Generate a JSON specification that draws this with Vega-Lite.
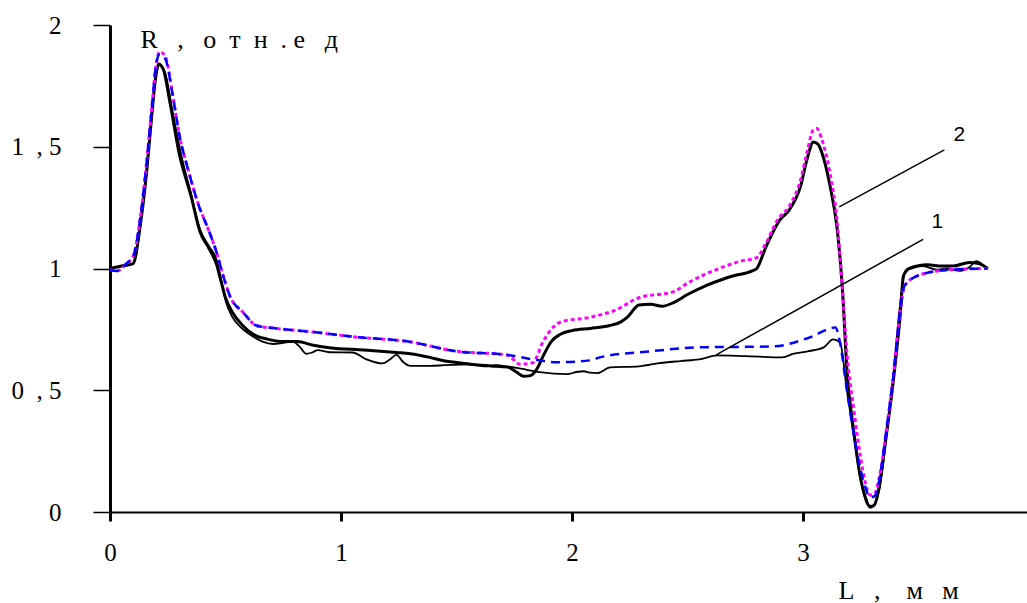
{
  "$schema": "https://vega.github.io/schema/vega-lite/v6.json",
  "autosize": "none",
  "width": 924,
  "height": 487,
  "padding": {"left": 110, "top": 25, "right": 0, "bottom": 91},
  "background": "white",
  "config": {
    "view": {"stroke": null},
    "font": "Liberation Serif",
    "axis": {"grid": false, "labelFont": "Liberation Serif", "titleFont": "Liberation Serif", "labelColor": "black", "titleColor": "black", "domainColor": "black", "tickColor": "black", "titleFontWeight": "normal"}
  },
  "datasets": {
    "curves": [
      {"s": "A", "x": 0.00, "y": 1.00}, {"s": "A", "x": 0.05, "y": 1.01}, {"s": "A", "x": 0.10, "y": 1.02}, {"s": "A", "x": 0.13, "y": 1.17}, {"s": "A", "x": 0.16, "y": 1.41}, {"s": "A", "x": 0.18, "y": 1.62}, {"s": "A", "x": 0.20, "y": 1.80}, {"s": "A", "x": 0.21, "y": 1.84}, {"s": "A", "x": 0.23, "y": 1.82}, {"s": "A", "x": 0.26, "y": 1.68}, {"s": "A", "x": 0.30, "y": 1.47}, {"s": "A", "x": 0.35, "y": 1.30}, {"s": "A", "x": 0.39, "y": 1.15}, {"s": "A", "x": 0.43, "y": 1.08}, {"s": "A", "x": 0.46, "y": 1.02}, {"s": "A", "x": 0.48, "y": 0.95}, {"s": "A", "x": 0.50, "y": 0.88}, {"s": "A", "x": 0.53, "y": 0.82}, {"s": "A", "x": 0.57, "y": 0.77}, {"s": "A", "x": 0.62, "y": 0.73}, {"s": "A", "x": 0.68, "y": 0.71}, {"s": "A", "x": 0.75, "y": 0.70}, {"s": "A", "x": 0.81, "y": 0.70}, {"s": "A", "x": 0.88, "y": 0.685}, {"s": "A", "x": 0.95, "y": 0.675}, {"s": "A", "x": 1.10, "y": 0.665}, {"s": "A", "x": 1.24, "y": 0.655}, {"s": "A", "x": 1.30, "y": 0.65}, {"s": "A", "x": 1.385, "y": 0.635}, {"s": "A", "x": 1.45, "y": 0.62}, {"s": "A", "x": 1.50, "y": 0.614}, {"s": "A", "x": 1.57, "y": 0.606}, {"s": "A", "x": 1.65, "y": 0.60}, {"s": "A", "x": 1.72, "y": 0.595}, {"s": "A", "x": 1.76, "y": 0.575}, {"s": "A", "x": 1.79, "y": 0.557}, {"s": "A", "x": 1.82, "y": 0.56}, {"s": "A", "x": 1.85, "y": 0.59}, {"s": "A", "x": 1.875, "y": 0.64}, {"s": "A", "x": 1.91, "y": 0.70}, {"s": "A", "x": 1.95, "y": 0.73}, {"s": "A", "x": 2.00, "y": 0.745}, {"s": "A", "x": 2.08, "y": 0.754}, {"s": "A", "x": 2.16, "y": 0.765}, {"s": "A", "x": 2.21, "y": 0.78}, {"s": "A", "x": 2.24, "y": 0.80}, {"s": "A", "x": 2.29, "y": 0.85}, {"s": "A", "x": 2.34, "y": 0.853}, {"s": "A", "x": 2.39, "y": 0.845}, {"s": "A", "x": 2.44, "y": 0.86}, {"s": "A", "x": 2.50, "y": 0.893}, {"s": "A", "x": 2.58, "y": 0.93}, {"s": "A", "x": 2.65, "y": 0.955}, {"s": "A", "x": 2.70, "y": 0.97}, {"s": "A", "x": 2.78, "y": 0.99}, {"s": "A", "x": 2.80, "y": 1.00}, {"s": "A", "x": 2.84, "y": 1.09}, {"s": "A", "x": 2.90, "y": 1.20}, {"s": "A", "x": 2.94, "y": 1.24}, {"s": "A", "x": 2.99, "y": 1.34}, {"s": "A", "x": 3.017, "y": 1.447}, {"s": "A", "x": 3.045, "y": 1.52}, {"s": "A", "x": 3.065, "y": 1.51}, {"s": "A", "x": 3.087, "y": 1.46}, {"s": "A", "x": 3.117, "y": 1.34}, {"s": "A", "x": 3.147, "y": 1.17}, {"s": "A", "x": 3.17, "y": 0.925}, {"s": "A", "x": 3.19, "y": 0.586}, {"s": "A", "x": 3.22, "y": 0.33}, {"s": "A", "x": 3.247, "y": 0.15}, {"s": "A", "x": 3.27, "y": 0.06}, {"s": "A", "x": 3.29, "y": 0.02}, {"s": "A", "x": 3.31, "y": 0.03}, {"s": "A", "x": 3.325, "y": 0.08}, {"s": "A", "x": 3.36, "y": 0.31}, {"s": "A", "x": 3.39, "y": 0.53}, {"s": "A", "x": 3.42, "y": 0.80}, {"s": "A", "x": 3.435, "y": 0.97}, {"s": "A", "x": 3.46, "y": 1.00}, {"s": "A", "x": 3.54, "y": 1.015}, {"s": "A", "x": 3.60, "y": 1.01}, {"s": "A", "x": 3.65, "y": 1.01}, {"s": "A", "x": 3.72, "y": 1.025}, {"s": "A", "x": 3.76, "y": 1.02}, {"s": "A", "x": 3.80, "y": 1.00},

      {"s": "B", "x": 0.00, "y": 1.00}, {"s": "B", "x": 0.05, "y": 1.01}, {"s": "B", "x": 0.10, "y": 1.02}, {"s": "B", "x": 0.13, "y": 1.17}, {"s": "B", "x": 0.16, "y": 1.41}, {"s": "B", "x": 0.18, "y": 1.62}, {"s": "B", "x": 0.20, "y": 1.80}, {"s": "B", "x": 0.215, "y": 1.835}, {"s": "B", "x": 0.24, "y": 1.80}, {"s": "B", "x": 0.27, "y": 1.65}, {"s": "B", "x": 0.31, "y": 1.46}, {"s": "B", "x": 0.35, "y": 1.31}, {"s": "B", "x": 0.39, "y": 1.16}, {"s": "B", "x": 0.43, "y": 1.09}, {"s": "B", "x": 0.46, "y": 1.04}, {"s": "B", "x": 0.48, "y": 0.96}, {"s": "B", "x": 0.50, "y": 0.87}, {"s": "B", "x": 0.53, "y": 0.80}, {"s": "B", "x": 0.57, "y": 0.755}, {"s": "B", "x": 0.62, "y": 0.72}, {"s": "B", "x": 0.66, "y": 0.70}, {"s": "B", "x": 0.706, "y": 0.69}, {"s": "B", "x": 0.75, "y": 0.695}, {"s": "B", "x": 0.79, "y": 0.70}, {"s": "B", "x": 0.82, "y": 0.68}, {"s": "B", "x": 0.85, "y": 0.65}, {"s": "B", "x": 0.875, "y": 0.655}, {"s": "B", "x": 0.90, "y": 0.665}, {"s": "B", "x": 0.95, "y": 0.656}, {"s": "B", "x": 1.05, "y": 0.655}, {"s": "B", "x": 1.11, "y": 0.627}, {"s": "B", "x": 1.18, "y": 0.61}, {"s": "B", "x": 1.21, "y": 0.625}, {"s": "B", "x": 1.24, "y": 0.645}, {"s": "B", "x": 1.27, "y": 0.615}, {"s": "B", "x": 1.30, "y": 0.60}, {"s": "B", "x": 1.385, "y": 0.60}, {"s": "B", "x": 1.45, "y": 0.603}, {"s": "B", "x": 1.57, "y": 0.606}, {"s": "B", "x": 1.62, "y": 0.598}, {"s": "B", "x": 1.67, "y": 0.603}, {"s": "B", "x": 1.72, "y": 0.598}, {"s": "B", "x": 1.80, "y": 0.585}, {"s": "B", "x": 1.86, "y": 0.574}, {"s": "B", "x": 1.98, "y": 0.566}, {"s": "B", "x": 2.02, "y": 0.575}, {"s": "B", "x": 2.05, "y": 0.578}, {"s": "B", "x": 2.08, "y": 0.572}, {"s": "B", "x": 2.11, "y": 0.57}, {"s": "B", "x": 2.165, "y": 0.594}, {"s": "B", "x": 2.29, "y": 0.598}, {"s": "B", "x": 2.37, "y": 0.61}, {"s": "B", "x": 2.47, "y": 0.62}, {"s": "B", "x": 2.55, "y": 0.627}, {"s": "B", "x": 2.63, "y": 0.643}, {"s": "B", "x": 2.75, "y": 0.64}, {"s": "B", "x": 2.91, "y": 0.635}, {"s": "B", "x": 2.96, "y": 0.65}, {"s": "B", "x": 3.02, "y": 0.66}, {"s": "B", "x": 3.09, "y": 0.676}, {"s": "B", "x": 3.13, "y": 0.709}, {"s": "B", "x": 3.16, "y": 0.697}, {"s": "B", "x": 3.19, "y": 0.50}, {"s": "B", "x": 3.22, "y": 0.31}, {"s": "B", "x": 3.25, "y": 0.13}, {"s": "B", "x": 3.28, "y": 0.03}, {"s": "B", "x": 3.30, "y": 0.025}, {"s": "B", "x": 3.33, "y": 0.09}, {"s": "B", "x": 3.36, "y": 0.30}, {"s": "B", "x": 3.39, "y": 0.55}, {"s": "B", "x": 3.42, "y": 0.85}, {"s": "B", "x": 3.44, "y": 0.98}, {"s": "B", "x": 3.47, "y": 1.005}, {"s": "B", "x": 3.52, "y": 1.01}, {"s": "B", "x": 3.58, "y": 0.995}, {"s": "B", "x": 3.62, "y": 1.0}, {"s": "B", "x": 3.68, "y": 0.99}, {"s": "B", "x": 3.72, "y": 1.005}, {"s": "B", "x": 3.75, "y": 1.03}, {"s": "B", "x": 3.78, "y": 1.015}, {"s": "B", "x": 3.80, "y": 1.0},

      {"s": "C", "x": 0.00, "y": 0.995}, {"s": "C", "x": 0.03, "y": 0.99}, {"s": "C", "x": 0.07, "y": 1.02}, {"s": "C", "x": 0.10, "y": 1.05}, {"s": "C", "x": 0.13, "y": 1.20}, {"s": "C", "x": 0.16, "y": 1.45}, {"s": "C", "x": 0.18, "y": 1.65}, {"s": "C", "x": 0.20, "y": 1.84}, {"s": "C", "x": 0.215, "y": 1.89}, {"s": "C", "x": 0.24, "y": 1.87}, {"s": "C", "x": 0.27, "y": 1.72}, {"s": "C", "x": 0.30, "y": 1.55}, {"s": "C", "x": 0.34, "y": 1.40}, {"s": "C", "x": 0.38, "y": 1.27}, {"s": "C", "x": 0.43, "y": 1.15}, {"s": "C", "x": 0.46, "y": 1.07}, {"s": "C", "x": 0.49, "y": 0.97}, {"s": "C", "x": 0.52, "y": 0.885}, {"s": "C", "x": 0.576, "y": 0.82}, {"s": "C", "x": 0.636, "y": 0.765}, {"s": "C", "x": 0.72, "y": 0.754}, {"s": "C", "x": 0.90, "y": 0.737}, {"s": "C", "x": 1.05, "y": 0.72}, {"s": "C", "x": 1.29, "y": 0.70}, {"s": "C", "x": 1.50, "y": 0.66}, {"s": "C", "x": 1.72, "y": 0.645}, {"s": "C", "x": 1.775, "y": 0.607}, {"s": "C", "x": 1.83, "y": 0.613}, {"s": "C", "x": 1.875, "y": 0.70}, {"s": "C", "x": 1.92, "y": 0.76}, {"s": "C", "x": 1.95, "y": 0.78}, {"s": "C", "x": 2.08, "y": 0.80}, {"s": "C", "x": 2.19, "y": 0.83}, {"s": "C", "x": 2.29, "y": 0.88}, {"s": "C", "x": 2.44, "y": 0.905}, {"s": "C", "x": 2.50, "y": 0.94}, {"s": "C", "x": 2.61, "y": 0.99}, {"s": "C", "x": 2.73, "y": 1.03}, {"s": "C", "x": 2.80, "y": 1.045}, {"s": "C", "x": 2.84, "y": 1.105}, {"s": "C", "x": 2.89, "y": 1.20}, {"s": "C", "x": 2.94, "y": 1.255}, {"s": "C", "x": 2.99, "y": 1.365}, {"s": "C", "x": 3.017, "y": 1.475}, {"s": "C", "x": 3.045, "y": 1.57}, {"s": "C", "x": 3.06, "y": 1.575}, {"s": "C", "x": 3.08, "y": 1.535}, {"s": "C", "x": 3.117, "y": 1.39}, {"s": "C", "x": 3.147, "y": 1.20}, {"s": "C", "x": 3.17, "y": 0.925}, {"s": "C", "x": 3.19, "y": 0.655}, {"s": "C", "x": 3.22, "y": 0.42}, {"s": "C", "x": 3.25, "y": 0.22}, {"s": "C", "x": 3.27, "y": 0.12}, {"s": "C", "x": 3.29, "y": 0.07}, {"s": "C", "x": 3.31, "y": 0.075}, {"s": "C", "x": 3.33, "y": 0.14}, {"s": "C", "x": 3.36, "y": 0.33}, {"s": "C", "x": 3.39, "y": 0.55}, {"s": "C", "x": 3.42, "y": 0.82}, {"s": "C", "x": 3.44, "y": 0.93}, {"s": "C", "x": 3.51, "y": 0.975}, {"s": "C", "x": 3.65, "y": 0.996}, {"s": "C", "x": 3.80, "y": 1.0},

      {"s": "D", "x": 0.00, "y": 0.995}, {"s": "D", "x": 0.03, "y": 0.99}, {"s": "D", "x": 0.07, "y": 1.02}, {"s": "D", "x": 0.10, "y": 1.05}, {"s": "D", "x": 0.13, "y": 1.20}, {"s": "D", "x": 0.16, "y": 1.45}, {"s": "D", "x": 0.18, "y": 1.65}, {"s": "D", "x": 0.20, "y": 1.84}, {"s": "D", "x": 0.215, "y": 1.88}, {"s": "D", "x": 0.24, "y": 1.86}, {"s": "D", "x": 0.27, "y": 1.72}, {"s": "D", "x": 0.30, "y": 1.55}, {"s": "D", "x": 0.34, "y": 1.40}, {"s": "D", "x": 0.38, "y": 1.27}, {"s": "D", "x": 0.43, "y": 1.15}, {"s": "D", "x": 0.46, "y": 1.07}, {"s": "D", "x": 0.49, "y": 0.97}, {"s": "D", "x": 0.52, "y": 0.885}, {"s": "D", "x": 0.576, "y": 0.82}, {"s": "D", "x": 0.636, "y": 0.765}, {"s": "D", "x": 0.72, "y": 0.754}, {"s": "D", "x": 0.90, "y": 0.737}, {"s": "D", "x": 1.05, "y": 0.72}, {"s": "D", "x": 1.29, "y": 0.70}, {"s": "D", "x": 1.50, "y": 0.66}, {"s": "D", "x": 1.72, "y": 0.645}, {"s": "D", "x": 1.83, "y": 0.627}, {"s": "D", "x": 1.935, "y": 0.615}, {"s": "D", "x": 2.08, "y": 0.623}, {"s": "D", "x": 2.12, "y": 0.635}, {"s": "D", "x": 2.34, "y": 0.66}, {"s": "D", "x": 2.55, "y": 0.676}, {"s": "D", "x": 2.87, "y": 0.68}, {"s": "D", "x": 3.03, "y": 0.717}, {"s": "D", "x": 3.14, "y": 0.758}, {"s": "D", "x": 3.16, "y": 0.697}, {"s": "D", "x": 3.19, "y": 0.50}, {"s": "D", "x": 3.22, "y": 0.32}, {"s": "D", "x": 3.25, "y": 0.17}, {"s": "D", "x": 3.27, "y": 0.10}, {"s": "D", "x": 3.29, "y": 0.06}, {"s": "D", "x": 3.31, "y": 0.065}, {"s": "D", "x": 3.33, "y": 0.13}, {"s": "D", "x": 3.36, "y": 0.33}, {"s": "D", "x": 3.39, "y": 0.55}, {"s": "D", "x": 3.42, "y": 0.82}, {"s": "D", "x": 3.44, "y": 0.93}, {"s": "D", "x": 3.51, "y": 0.975}, {"s": "D", "x": 3.65, "y": 0.996}, {"s": "D", "x": 3.80, "y": 1.0}
    ],
    "leaders": [
      {"label": "2", "x": 3.157, "y": 1.253, "x2": 3.612, "y2": 1.487, "tx": 3.677, "ty": 1.548},
      {"label": "1", "x": 2.624, "y": 0.645, "x2": 3.52, "y2": 1.12, "tx": 3.582, "ty": 1.191}
    ]
  },
  "encoding": {
    "x": {"field": "x", "type": "quantitative", "scale": {"domain": [0, 4], "nice": false},
      "axis": {"values": [0, 1, 2, 3, 4], "tickSize": 9, "tickWidth": 3, "domainWidth": 2, "labelFont": "Liberation Serif", "labelFontSize": 25, "labelPadding": 19, "labelFlush": false,
        "labelExpr": "datum.value == 0 ? '0' : datum.value == 1 ? '1' : datum.value == 2 ? '2' : datum.value == 3 ? '3' : '4'",
        "title": "L\u00a0\u00a0\u00a0,\u00a0\u00a0\u00a0\u00a0м\u00a0\u00a0\u00a0м", "titleFont": "Liberation Serif", "titleFontSize": 26, "titleX": 728, "titleY": 86, "titleAlign": "left", "titleBaseline": "alphabetic", "titleAnchor": null}},
    "y": {"field": "y", "type": "quantitative", "scale": {"domain": [0, 2], "nice": false},
      "axis": {"values": [0, 0.5, 1, 1.5, 2], "tickSize": 17, "tickWidth": 1.5, "domainWidth": 3, "labelFont": "Liberation Serif", "labelFontSize": 25, "labelPadding": 32, "labelFlush": false,
        "labelExpr": "datum.value == 1.5 ? '1\u00a0\u00a0,\u00a05' : datum.value == 0.5 ? '0\u00a0\u00a0,\u00a05' : datum.value == 2 ? '2' : datum.value == 1 ? '1' : '0'",
        "title": "R\u00a0\u00a0\u00a0,\u00a0\u00a0\u00a0о\u00a0\u00a0т\u00a0\u00a0н\u00a0\u00a0.\u00a0е\u00a0\u00a0\u00a0д", "titleFont": "Liberation Serif", "titleFontSize": 26, "titleAngle": 0, "titleX": 30, "titleY": 22, "titleAlign": "left", "titleBaseline": "alphabetic", "titleAnchor": null}}
  },
  "layer": [
    {"data": {"name": "curves"}, "transform": [{"filter": "datum.s == 'B'"}], "mark": {"type": "line", "color": "black", "strokeWidth": 1.8, "interpolate": "monotone"}},
    {"data": {"name": "curves"}, "transform": [{"filter": "datum.s == 'A'"}], "mark": {"type": "line", "color": "black", "strokeWidth": 3, "interpolate": "monotone"}},
    {"data": {"name": "curves"}, "transform": [{"filter": "datum.s == 'C'"}], "mark": {"type": "line", "color": "#FF00FF", "strokeWidth": 3, "strokeDash": [4, 3], "interpolate": "monotone"}},
    {"data": {"name": "curves"}, "transform": [{"filter": "datum.s == 'D'"}], "mark": {"type": "line", "color": "#0000FF", "strokeWidth": 2.5, "strokeDash": [9, 6], "interpolate": "monotone"}},
    {"data": {"name": "leaders"}, "mark": {"type": "rule", "color": "black", "strokeWidth": 1.5},
      "encoding": {"x": {"field": "x", "type": "quantitative"}, "y": {"field": "y", "type": "quantitative"}, "x2": {"field": "x2"}, "y2": {"field": "y2"}}},
    {"data": {"name": "leaders"}, "mark": {"type": "text", "font": "Liberation Sans", "fontSize": 21, "color": "black", "align": "center", "baseline": "middle"},
      "encoding": {"x": {"field": "tx", "type": "quantitative"}, "y": {"field": "ty", "type": "quantitative"}, "text": {"field": "label"}}}
  ]
}
